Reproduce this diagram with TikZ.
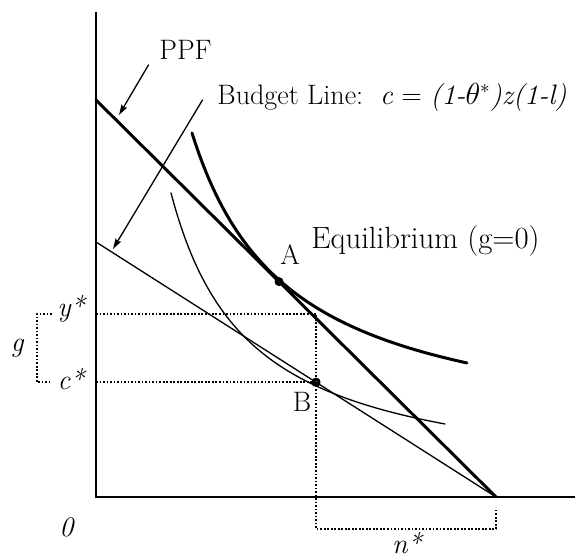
\documentclass[tikz,border=0pt]{standalone}
\usepackage{fontspec}
\usepackage{amsmath,amssymb}
\usepackage{tikz}
\usetikzlibrary{arrows.meta,calc}

\begin{document}
\begin{tikzpicture}[line cap=round,line join=round,>={Stealth[length=6pt,width=3.6pt,inset=1pt]},x=0.02cm,y=0.02cm,
		heavy/.style={line width=1.7pt},
		light/.style={line width=0.75pt},
		dots/.style={line width=1pt,dash pattern=on 1pt off 1pt,line cap=butt},
		lbl/.style={inner sep=2pt,font=\fontsize{16}{19}\selectfont}]
		\useasboundingbox (-96,-63) rectangle (491,497);

		% Achsen
		\coordinate (O) at (0,0);
		\coordinate (ytop) at (0,485);
		\coordinate (xend) at (479,0);
		\draw[heavy,line join=miter,line cap=butt] (ytop) -- (O) -- (xend);

		% PPF und Budgetgerade
		\coordinate (ppfT) at (0,397);
		\coordinate (budT) at (0,255);
		\coordinate (nstar) at (400,0);
		\coordinate (A) at ($(ppfT)!0.4575!(nstar)$);
		\coordinate (B) at ($(budT)!0.55!(nstar)$);
		\draw[heavy] (ppfT) -- (nstar);
		\draw[light] (budT) -- (nstar);

		% Indifferenzkurven
		\draw[heavy] plot[domain=96:371,samples=80] (\x,{52.5+303.73/(\x+1.5)*100});
		\draw[light] plot[domain=75:349,samples=80] (\x,{7.1+232.06/(\x+3.16)*100});

		% gepunktete Hilfslinien
		\coordinate (ystar) at (0,183);
		\coordinate (nbot) at (0,-32);
		\draw[dots] (ystar) -- (B |- ystar) -- (B |- nbot) -- (nstar |- nbot) -- ($(nstar)+(0,-11)$);
		\draw[dots] (O |- B) -- (B);
		\draw[dots] (-44,183) -- (-59,183) -- (-59,114.75) -- (-44,114.75);

		% Punkte A und B
		\fill (A) circle (4.5);
		\draw[line width=1.8pt] (B) circle (3);

		% Beschriftung
		\node[lbl,anchor=base] (ppflbl) at (89.5,437) {PPF};
		\coordinate (ppfhit) at (23,382);
		\draw[light,->] ([shift={(-7,-1)}]ppflbl.south west) -- (ppfhit);
		\node[lbl,anchor=base west] (budlbl) at (117.5,392) {Budget Line:\ \ \textit{c} = \textit{(1-}$\theta^{*}$\textit{)z(1-l)}};
		\coordinate (budhit) at (17,248);
		\draw[light,->] ([shift={(-11,-2)}]budlbl.west) -- (budhit);
		\node[lbl,anchor=base west,font=\fontsize{17.5}{21}\selectfont] (eqlbl) at (211.5,248) {Equilibrium (g=0)};
		\node[lbl,anchor=base] (Albl) at (194,232) {A};
		\node[lbl,anchor=base] (Blbl) at (206,85) {B};
		\node[lbl,anchor=base] (ylbl) at (-24,180) {\textit{y*}};
		\node[lbl,anchor=base] (clbl) at (-24,107) {\textit{c*}};
		\node[lbl,anchor=base] (glbl) at (-78.5,145) {\textit{g}};
		\node[lbl,anchor=base] (zerolbl) at (-29,-39) {\textit{0}};
		\node[lbl,anchor=base] (nlbl) at (312,-56) {\textit{n*}};
	\end{tikzpicture}
\end{document}
